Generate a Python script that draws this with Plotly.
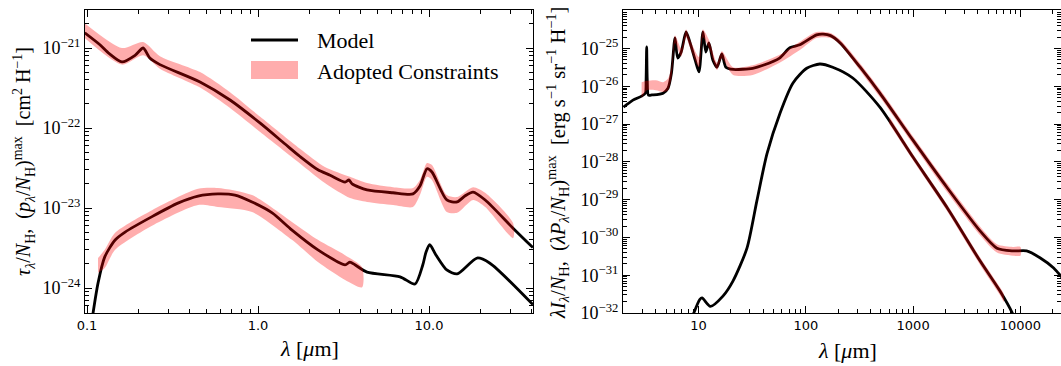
import plotly.graph_objects as go

# ---------------- left panel: extinction and polarization per H ----------------
ext_lam = [0.097, 0.119, 0.135, 0.160, 0.191, 0.213, 0.233, 0.267, 0.458, 0.686, 1.03,
           1.44, 1.76, 2.24, 2.64, 3.23, 3.40, 3.55, 4.34, 6.16, 8.06, 8.85, 9.73, 10.4,
           12.7, 14.6, 16.2, 18.1, 21.3, 31.0, 40.5]
ext_val = [1.55e-21, 1.10e-21, 8.5e-22, 6.7e-22, 8.1e-22, 1.0e-21, 7.5e-22, 6.2e-22, 3.76e-22,
           2.24e-22, 1.15e-22, 6.3e-23, 4.4e-23, 3.0e-23, 2.57e-23, 2.11e-23, 2.24e-23, 2.0e-23,
           1.68e-23, 1.55e-23, 1.50e-23, 1.88e-23, 3.09e-23, 2.82e-23, 1.26e-23, 1.19e-23,
           1.41e-23, 1.58e-23, 1.26e-23, 5.6e-24, 3.2e-24]

ext_band_lam = [0.097, 0.160, 0.213, 0.267, 0.458, 0.686, 1.03, 1.76, 2.46, 3.45, 4.34,
                6.16, 8.06, 8.85, 9.73, 10.4, 12.7, 14.6, 18.1, 21.3, 31.0]
ext_band_hi = [2.04e-21, 1.0e-21, 1.19e-21, 7.9e-22, 5.0e-22, 2.8e-22, 1.38e-22, 5.5e-23,
               3.25e-23, 2.45e-23, 2.05e-23, 1.82e-23, 1.78e-23, 2.24e-23, 3.65e-23, 3.45e-23,
               1.45e-23, 1.37e-23, 1.82e-23, 1.55e-23, 6.5e-24]
ext_band_lo = [1.33e-21, 6.2e-22, 8.1e-22, 5.5e-22, 3.2e-22, 1.78e-22, 8.9e-23, 3.6e-23,
               2.05e-23, 1.33e-23, 1.19e-23, 1.09e-23, 1.03e-23, 1.45e-23, 2.45e-23, 2.24e-23,
               8.9e-24, 8.7e-24, 1.26e-23, 1.03e-23, 4.2e-24]

pol_lam = [0.106, 0.116, 0.127, 0.146, 0.167, 0.240, 0.340, 0.446, 0.583, 0.733, 0.923,
           1.21, 1.58, 2.24, 3.23, 3.45, 3.69, 4.34, 6.77, 8.28, 9.2, 9.6, 10.1, 11.0,
           12.7, 14.6, 19.1, 22.7, 40.5]
pol_val = [3.5e-25, 1.15e-24, 2.45e-24, 3.98e-24, 5.0e-24, 7.8e-24, 1.15e-23, 1.41e-23,
           1.50e-23, 1.45e-23, 1.19e-23, 8.7e-24, 5.3e-24, 3.0e-24, 1.95e-24, 2.11e-24,
           1.95e-24, 1.58e-24, 1.38e-24, 1.12e-24, 1.95e-24, 2.8e-24, 3.47e-24, 2.57e-24,
           1.68e-24, 1.50e-24, 2.37e-24, 2.04e-24, 6.2e-25]

pol_band_lam = [0.116, 0.127, 0.146, 0.240, 0.446, 0.583, 0.923, 1.58, 2.24, 3.23, 4.06]
pol_band_hi = [2.37e-24, 3.0e-24, 4.9e-24, 9.4e-24, 1.74e-23, 1.78e-23, 1.45e-23, 6.7e-24,
               4.0e-24, 2.57e-24, 1.82e-24]
pol_band_lo = [1.55e-24, 1.78e-24, 3.0e-24, 6.0e-24, 1.09e-23, 1.03e-23, 8.9e-24, 4.0e-24,
               2.11e-24, 1.26e-24, 1.02e-24]

# ---------------- right panel: emission and polarized emission per H ----------------
em_lam = [2.0, 2.45, 2.95, 3.2, 3.25, 3.29, 3.33, 3.42, 3.68, 4.68, 5.2, 5.6, 6.04, 6.4,
          6.9, 7.66, 8.3, 9.3, 10.1, 11.0, 11.7, 12.5, 13.6, 14.9, 16.5, 18.0, 21.0, 32.0,
          40.0, 57.0, 71.0, 88.0, 126.0, 145.0, 170.0, 209.0, 321.0, 490.0, 1000.0, 2070.0,
          4200.0, 6040.0, 8520.0, 11400.0, 15200.0, 20400.0, 25000.0]
em_val = [2.8e-27, 4.3e-27, 5.5e-27, 6.6e-27, 1.5e-26, 1.1e-25, 1.5e-26, 5.8e-27, 5.9e-27,
          6.6e-27, 8.9e-27, 2.24e-26, 1.9e-25, 5.6e-26, 8.1e-26, 2.75e-25, 1.5e-25, 5.0e-26,
          2.4e-26, 2.75e-25, 8.1e-26, 1.41e-25, 5.0e-26, 3.2e-26, 7.2e-26, 3.2e-26, 2.8e-26,
          3.0e-26, 3.6e-26, 5.6e-26, 1.05e-25, 1.26e-25, 2.3e-25, 2.4e-25, 2.2e-25, 1.41e-25,
          3.2e-26, 6.6e-27, 3.7e-28, 2.1e-29, 1.5e-30, 5.2e-31, 4.4e-31, 4.4e-31, 2.9e-31,
          1.55e-31, 8.0e-32]

em_band_lam = [2.95, 3.3, 4.0, 4.7, 5.2, 5.6, 6.04, 6.9, 7.66, 8.3, 10.1, 11.0, 12.5, 14.9,
               16.5, 21.0, 32.0, 57.0, 88.0, 126.0, 170.0, 209.0, 321.0, 490.0, 1000.0,
               2070.0, 4200.0, 6040.0, 8520.0, 10000.0]
em_band_hi = [1.29e-26, 1.4e-26, 1.45e-26, 1.29e-26, 1.6e-26, 3.2e-26, 2.2e-25, 1.0e-25,
              3.2e-25, 1.8e-25, 6.0e-26, 3.2e-25, 1.7e-25, 4.2e-26, 8.5e-26, 3.2e-26, 3.6e-26,
              6.8e-26, 1.51e-25, 2.75e-25, 2.57e-25, 1.7e-25, 4.0e-26, 8.3e-27, 4.7e-28,
              2.7e-29, 1.95e-30, 6.6e-31, 5.6e-31, 5.6e-31]
em_band_lo = [4.9e-27, 7.9e-27, 7.9e-27, 7.1e-27, 7.9e-27, 1.6e-26, 1.4e-25, 6.2e-26,
              2.0e-25, 1.1e-25, 3.2e-26, 2.0e-25, 1.05e-25, 2.7e-26, 5.5e-26, 2.0e-26, 2.0e-26,
              4.2e-26, 9.1e-26, 1.9e-25, 1.9e-25, 1.26e-25, 2.6e-26, 5.2e-27, 2.9e-28,
              1.6e-29, 1.15e-30, 4.0e-31, 3.3e-31, 3.3e-31]

pem_lam = [8.9, 10.3, 10.8, 12.9, 16.9, 21.0, 28.3, 35.0, 43.5, 57.5, 76.0, 102.0, 135.0,
           178.0, 274.0, 490.0, 1000.0, 2070.0, 4200.0, 6450.0, 8500.0, 9500.0]
pem_val = [8.9e-33, 2.3e-32, 2.5e-32, 1.5e-32, 2.8e-32, 7.1e-32, 5.2e-31, 9.3e-30, 1.66e-28,
           1.95e-27, 1.23e-26, 3.0e-26, 3.9e-26, 3.2e-26, 1.66e-26, 2.8e-27, 1.32e-28,
           6.2e-30, 2.4e-31, 3.8e-32, 9.3e-33, 4.0e-33]

pem_band_lam = [600.0, 1000.0, 2070.0, 4200.0, 6450.0, 7000.0]
pem_band_hi = [1.6e-27, 1.6e-28, 7.6e-30, 3.0e-31, 4.8e-32, 3.2e-32]
pem_band_lo = [1.0e-27, 1.08e-28, 5.0e-30, 1.9e-31, 3.0e-32, 2.0e-32]

# tick positions and labels
left_xticks = [0.1, 1, 10]
left_xlabels = ["0.1", "1.0", "10.0"]
right_xticks = [10, 100, 1000, 10000]
right_xlabels = ["10", "100", "1000", "10000"]
left_yexps = [-24, -23, -22, -21]
right_yexps = [-32, -31, -30, -29, -28, -27, -26, -25, -24]

# ---------------- styling ----------------
W, H = 1061, 366
SERIF = "Liberation Serif"
SANS = "DejaVu Sans"
LINE_W = 2.8
BAND = "rgba(255,0,0,0.32)"

fig = go.Figure()


def add_line(x, y, xa, ya):
    fig.add_trace(go.Scatter(x=x, y=y, mode="lines", xaxis=xa, yaxis=ya,
                             line=dict(color="black", width=LINE_W, shape="spline", smoothing=0.7),
                             showlegend=False, hoverinfo="skip"))


def add_band(x, lo, hi, xa, ya):
    xs = list(x) + list(x)[::-1]
    ys = list(hi) + list(lo)[::-1]
    fig.add_trace(go.Scatter(x=xs, y=ys, mode="lines", fill="toself", fillcolor=BAND,
                             line=dict(width=0, shape="spline", smoothing=0.7),
                             xaxis=xa, yaxis=ya, showlegend=False, hoverinfo="skip"))


# black model curves first, translucent constraint bands on top
add_line(ext_lam, ext_val, "x", "y")
add_line(pol_lam, pol_val, "x", "y")
add_line(em_lam, em_val, "x2", "y2")
add_line(pem_lam, pem_val, "x2", "y2")
add_band(ext_band_lam, ext_band_lo, ext_band_hi, "x", "y")
add_band(pol_band_lam, pol_band_lo, pol_band_hi, "x", "y")
add_band(em_band_lam, em_band_lo, em_band_hi, "x2", "y2")
add_band(pem_band_lam, pem_band_lo, pem_band_hi, "x2", "y2")


def minor_vals(lo_exp, hi_exp):
    return [k * 10.0 ** e for e in range(lo_exp, hi_exp + 1) for k in range(2, 10)]


def pow_ticks(exps):
    return [10.0 ** e for e in exps], ["10<sup>−%d</sup>" % (-e) for e in exps]


ly_vals, ly_text = pow_ticks(left_yexps)
ry_vals, ry_text = pow_ticks(right_yexps)

ydom = [(H - 313) / H, (H - 10) / H]
axis_common = dict(type="log", showgrid=False, zeroline=False, showline=True, linecolor="black",
                   linewidth=1.3, mirror="ticks", ticks="inside", ticklen=7, tickwidth=1.1,
                   tickcolor="black", automargin=False)
minor_common = dict(ticks="inside", ticklen=4, tickwidth=1, tickcolor="black")

fig.update_layout(
    width=W, height=H, margin=dict(l=0, r=0, t=0, b=0, autoexpand=False),
    paper_bgcolor="white", plot_bgcolor="white", showlegend=False,
    xaxis=dict(axis_common, domain=[85 / W, 533 / W], range=[-1.0117, 1.608],
               tickvals=left_xticks, ticktext=left_xlabels,
               tickfont=dict(family=SANS, size=13, color="black"),
               minor=dict(minor_common, tickvals=minor_vals(-1, 1)), anchor="y"),
    yaxis=dict(axis_common, domain=ydom, range=[-24.3125, -20.525],
               tickvals=ly_vals, ticktext=ly_text,
               tickfont=dict(family=SERIF, size=18, color="black"),
               minor=dict(minor_common, tickvals=minor_vals(-25, -21)), anchor="x"),
    xaxis2=dict(axis_common, domain=[623 / W, 1.0], range=[0.2966, 4.378],
                tickvals=right_xticks, ticktext=right_xlabels,
                tickfont=dict(family=SANS, size=13, color="black"),
                minor=dict(minor_common, tickvals=minor_vals(0, 4)), anchor="y2"),
    yaxis2=dict(axis_common, domain=ydom, range=[-32.0, -23.98],
                tickvals=ry_vals, ticktext=ry_text,
                tickfont=dict(family=SERIF, size=18, color="black"),
                minor=dict(minor_common, tickvals=minor_vals(-33, -25)), anchor="x2"),
)

# axis titles
title_font = dict(family=SERIF, size=22, color="black")
fig.add_annotation(text="<i>λ</i> [<i>μ</i>m]", x=309 / W, y=(H - 348) / H, xref="paper",
                   yref="paper", showarrow=False, font=title_font, xanchor="center", yanchor="middle")
fig.add_annotation(text="<i>λ</i> [<i>μ</i>m]", x=847 / W, y=(H - 350) / H, xref="paper",
                   yref="paper", showarrow=False, font=title_font, xanchor="center", yanchor="middle")
fig.add_annotation(
    text="<i>τ</i><sub><i>λ</i></sub>/<i>N</i><sub>H</sub>,\u2002(<i>p</i><sub><i>λ</i></sub>/<i>N</i><sub>H</sub>)<sup>max</sup>\u2002[cm<sup>2</sup> H<sup>−1</sup>]",
    x=24 / W, y=(H - 162) / H, xref="paper", yref="paper", showarrow=False, textangle=-90,
    font=dict(family=SERIF, size=20, color="black"), xanchor="center", yanchor="middle")
fig.add_annotation(
    text="<i>λI</i><sub><i>λ</i></sub>/<i>N</i><sub>H</sub>,\u2002(<i>λP</i><sub><i>λ</i></sub>/<i>N</i><sub>H</sub>)<sup>max</sup>\u2002[erg s<sup>−1</sup> sr<sup>−1</sup> H<sup>−1</sup>]",
    x=557 / W, y=(H - 163) / H, xref="paper", yref="paper", showarrow=False, textangle=-90,
    font=dict(family=SERIF, size=20.5, color="black"), xanchor="center", yanchor="middle")

# legend: line sample, band swatch and labels
fig.add_shape(type="line", xref="paper", yref="paper", x0=251 / W, x1=298 / W,
              y0=(H - 40) / H, y1=(H - 40) / H, line=dict(color="black", width=LINE_W))
fig.add_shape(type="rect", xref="paper", yref="paper", x0=251 / W, x1=298 / W,
              y0=(H - 79) / H, y1=(H - 61) / H, fillcolor=BAND, line=dict(width=0))
leg_font = dict(family=SERIF, size=22, color="black")
fig.add_annotation(text="Model", x=315 / W, y=(H - 40) / H, xref="paper", yref="paper",
                   showarrow=False, font=leg_font, xanchor="left", yanchor="middle")
fig.add_annotation(text="Adopted Constraints", x=315 / W, y=(H - 71) / H, xref="paper",
                   yref="paper", showarrow=False, font=leg_font, xanchor="left", yanchor="middle")

fig.write_html("out.html")
